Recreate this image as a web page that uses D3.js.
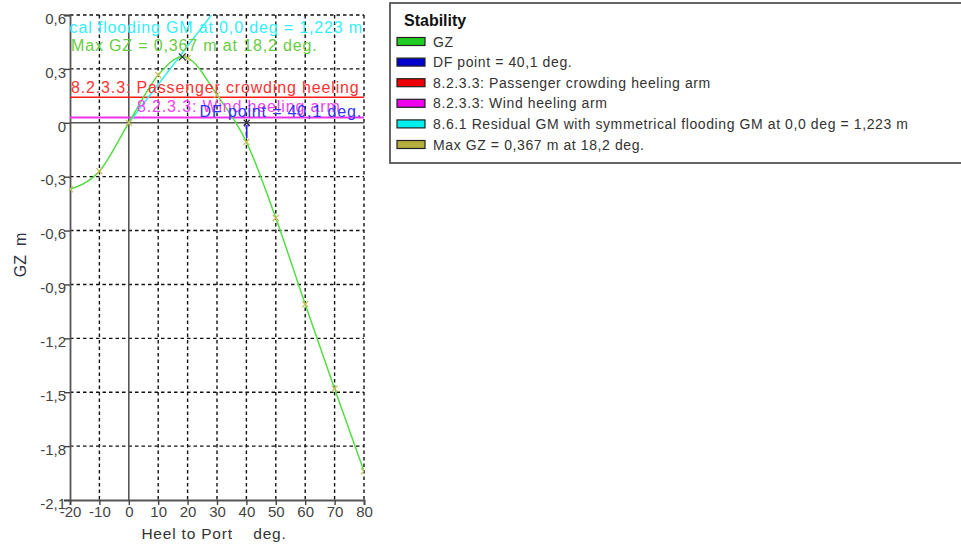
<!DOCTYPE html>
<html>
<head>
<meta charset="utf-8">
<script src="https://cdn.jsdelivr.net/npm/d3@7"></script>
<style>
  html, body { margin: 0; padding: 0; background: #fff; }
  svg { display: block; font-family: "Liberation Sans", Arial, sans-serif; }
</style>
</head>
<body>
<svg id="chart" width="961" height="547"></svg>
<script>
// GZ righting-lever curve, heel to port
const heelDeg = [-20, -10, 0, 10, 18.2, 20, 30, 40, 50, 60, 70, 80];
const gzValues = [-0.37, -0.27, 0, 0.266, 0.367, 0.36, 0.155, -0.107, -0.53, -1.01, -1.48, -1.94];
const markerHeel = [-20, -10, 0, 10, 20, 30, 40, 50, 60, 70, 80];

// Criteria and reference values
const maxGz = { heel: 18.2, gz: 0.367 };
const dfPoint = 40.1;
const gmResidual = 1.223;          // m per radian
const passengerArm = 0.142;
const windArm = 0.03;

// Axis ticks
const xTicks = [-20, -10, 0, 10, 20, 30, 40, 50, 60, 70, 80];
const yTicks = [0.6, 0.3, 0, -0.3, -0.6, -0.9, -1.2, -1.5, -1.8, -2.1];

// Legend
const legendTitle = "Stability";
const legendLabels = [
  "GZ",
  "DF point = 40,1 deg.",
  "8.2.3.3: Passenger crowding heeling arm",
  "8.2.3.3: Wind heeling arm",
  "8.6.1 Residual GM with symmetrical flooding GM at 0,0 deg = 1,223 m",
  "Max GZ = 0,367 m at 18,2 deg."
];
const legendColors = ["#22cc22", "#0000cc", "#ee0000", "#ee00ee", "#00eeee", "#b5ad3c"];

const svg = d3.select("#chart");
const W = 961, H = 547;
const plot = { left: 70, right: 364, top: 15, bottom: 500 };

const x = d3.scaleLinear().domain([-20, 80]).range([plot.left, plot.right]);
const y = d3.scaleLinear().domain([-2.1, 0.6]).range([plot.bottom, plot.top]);
const fmt = v => v === 0 ? "0" : d3.format(".1f")(v).replace(".", ",").replace("−", "-");

svg.append("rect").attr("width", W).attr("height", H).attr("fill", "#fff");

svg.append("defs").append("clipPath").attr("id", "plotClip")
  .append("rect")
  .attr("x", plot.left).attr("y", plot.top)
  .attr("width", plot.right - plot.left).attr("height", plot.bottom - plot.top);

// Dashed grid
const grid = svg.append("g").attr("stroke", "#111").attr("stroke-width", 1.4)
  .attr("stroke-dasharray", "3.5,3");
grid.selectAll("line.v").data(xTicks.filter(d => d !== -20 && d !== 0)).join("line")
  .attr("x1", d => x(d)).attr("x2", d => x(d))
  .attr("y1", plot.top).attr("y2", plot.bottom);
grid.selectAll("line.h").data(yTicks.filter(d => d !== -2.1 && d !== 0)).join("line")
  .attr("x1", plot.left).attr("x2", plot.right)
  .attr("y1", d => y(d)).attr("y2", d => y(d));

// Zero lines
svg.append("line").attr("x1", x(0)).attr("x2", x(0)).attr("y1", plot.top).attr("y2", plot.bottom)
  .attr("stroke", "#555").attr("stroke-width", 1.6);
svg.append("line").attr("x1", plot.left).attr("x2", plot.right).attr("y1", y(0)).attr("y2", y(0))
  .attr("stroke", "#555").attr("stroke-width", 1.6);

// Axes
const yAxis = svg.append("g").attr("transform", `translate(${plot.left},0)`)
  .call(d3.axisLeft(y).tickValues(yTicks).tickFormat(fmt).tickSize(6).tickPadding(-2));
const xAxis = svg.append("g").attr("transform", `translate(0,${plot.bottom})`)
  .call(d3.axisBottom(x).tickValues(xTicks).tickFormat(d => String(d)).tickSize(5).tickPadding(1));
[yAxis, xAxis].forEach(a => {
  a.select(".domain").attr("stroke", "#555").attr("stroke-width", 1.8);
  a.selectAll(".tick line").attr("stroke", "#444").attr("stroke-width", 1.4);
  a.selectAll(".tick text").attr("fill", "#444").attr("font-size", 15)
    .attr("font-family", "'Liberation Sans', Arial, sans-serif");
});
yAxis.selectAll(".tick text").attr("dy", "0.55em");
xAxis.selectAll(".tick text").attr("dy", "0.75em");

// Axis titles
svg.append("text").attr("x", 214).attr("y", 539).attr("text-anchor", "middle")
  .attr("font-size", 15.5).attr("letter-spacing", 0.8).attr("fill", "#333")
  .attr("xml:space", "preserve")
  .text("Heel to Port    deg.");
svg.append("text").attr("transform", "translate(26,255) rotate(-90)").attr("text-anchor", "middle")
  .attr("font-size", 16).attr("fill", "#334").attr("xml:space", "preserve")
  .text("GZ  m");

const inner = svg.append("g").attr("clip-path", "url(#plotClip)");

// Heeling arms
inner.append("line").attr("x1", plot.left).attr("x2", plot.right)
  .attr("y1", y(passengerArm)).attr("y2", y(passengerArm))
  .attr("stroke", "#ff1a1a").attr("stroke-width", 1.6);
inner.append("line").attr("x1", plot.left).attr("x2", plot.right)
  .attr("y1", y(windArm)).attr("y2", y(windArm))
  .attr("stroke", "#ee33ee").attr("stroke-width", 2);

// Residual GM line (GM per radian)
const oneRad = 180 / Math.PI;
inner.append("line").attr("x1", x(0)).attr("y1", y(0))
  .attr("x2", x(oneRad)).attr("y2", y(gmResidual))
  .attr("stroke", "#33eeee").attr("stroke-width", 1.5);

// GZ curve
const pts = heelDeg.map((h, i) => [h, gzValues[i]]);
inner.append("path").datum(pts)
  .attr("d", d3.line().x(d => x(d[0])).y(d => y(d[1])).curve(d3.curveMonotoneX))
  .attr("fill", "none").attr("stroke", "#55dd44").attr("stroke-width", 1.5);

// Curve markers
const gzAt = h => gzValues[heelDeg.indexOf(h)];
const cross = (g, cx, cy, s, color, w) => {
  g.append("path")
    .attr("d", `M${cx - s},${cy - s}L${cx + s},${cy + s}M${cx - s},${cy + s}L${cx + s},${cy - s}`)
    .attr("stroke", color).attr("stroke-width", w).attr("fill", "none");
};
markerHeel.forEach(h => cross(inner, x(h), y(gzAt(h)), 3, "#c8c060", 1.2));

// DF point arrow
const dfX = x(dfPoint);
inner.append("line").attr("x1", dfX).attr("x2", dfX).attr("y1", y(-0.085)).attr("y2", y(-0.012))
  .attr("stroke", "#2222ee").attr("stroke-width", 1.6);
inner.append("path")
  .attr("d", `M${dfX - 2.5},${y(-0.02)}L${dfX},${y(0) - 1}L${dfX + 2.5},${y(-0.02)}`)
  .attr("stroke", "#2222ee").attr("stroke-width", 1.3).attr("fill", "none");
cross(inner, dfX, y(0), 3, "#333", 1.2);

// Max GZ marker
cross(inner, x(maxGz.heel), y(maxGz.gz), 3.5, "#333", 1.3);

// Annotations inside the plot
const note = (txt, xx, yy, color, anchor) => inner.append("text")
  .attr("x", xx).attr("y", yy).attr("text-anchor", anchor)
  .attr("font-size", 16).attr("letter-spacing", 0.85).attr("fill", color).text(txt);
note(legendLabels[4], plot.right - 1, 33, "#33eeff", "end");
note(legendLabels[5], plot.left + 1, 51, "#66cc44", "start");
note(legendLabels[2], plot.left + 1, 93, "#ff3333", "start");
note(legendLabels[3], 137, 112, "#ee44ee", "start");
note(legendLabels[1], plot.right - 2, 117, "#3333ff", "end");

// Legend box
const lg = svg.append("g");
lg.append("rect").attr("x", 390).attr("y", 3).attr("width", 620).attr("height", 160)
  .attr("fill", "#fff").attr("stroke", "#555").attr("stroke-width", 1.8);
lg.append("text").attr("x", 404).attr("y", 26).attr("font-size", 16).attr("font-weight", "bold")
  .attr("fill", "#111").text(legendTitle);
const rows = lg.selectAll("g.row").data(legendLabels).join("g")
  .attr("transform", (d, i) => `translate(0,${41.5 + i * 20.6})`);
rows.append("rect").attr("x", 397).attr("y", -4).attr("width", 28).attr("height", 8)
  .attr("fill", (d, i) => legendColors[i]).attr("stroke", "#222").attr("stroke-width", 1.2);
rows.append("text").attr("x", 433).attr("y", 5).attr("font-size", 14)
  .attr("letter-spacing", 0.6).attr("fill", "#333").text(d => d);
</script>
</body>
</html>
